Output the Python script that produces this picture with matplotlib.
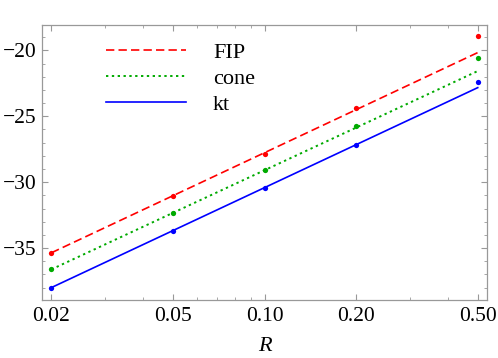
import matplotlib
matplotlib.use("Agg")
import matplotlib.pyplot as plt
from matplotlib.ticker import FixedLocator, NullFormatter

# Data
R = [0.02, 0.05, 0.10, 0.20, 0.50]
fip_pts = [-35.36, -31.06, -27.83, -24.39, -18.94]
cone_pts = [-36.62, -32.37, -29.09, -25.73, -20.55]
kt_pts = [-38.00, -33.74, -30.48, -27.17, -22.42]

# fitted lines (values at the two ends of the range)
R_line = [0.02, 0.50]
fip_line = [-35.36, -20.17]
cone_line = [-36.62, -21.57]
kt_line = [-38.00, -22.83]

xticks = [0.02, 0.05, 0.10, 0.20, 0.50]
xticklabels = ["0.02", "0.05", "0.10", "0.20", "0.50"]
xminor = [0.03, 0.04, 0.06, 0.07, 0.08, 0.09, 0.3, 0.4]
yticks = [-35, -30, -25, -20]
yticklabels = ["\u221235", "\u221230", "\u221225", "\u221220"]

plt.rcParams["font.family"] = ["Liberation Serif", "DejaVu Serif"]

fig = plt.figure(figsize=(4.98, 3.58), dpi=100)
ax = fig.add_axes([42.3 / 498, 1 - 300 / 358, (486.7 - 42.3) / 498, (300 - 25.3) / 358])

ax.plot(R_line, fip_line, color="#ff0000", lw=1.2, ls=(0, (5, 2.5)), label="FIP")
ax.plot(R_line, cone_line, color="#00aa00", lw=1.4, ls=(0, (1.2, 1.8)), label="cone")
ax.plot(R_line, kt_line, color="#0000ff", lw=1.2, label="kt")
ax.plot(R, fip_pts, "o", color="#ff0000", ms=3.8, mec="none")
ax.plot(R, cone_pts, "o", color="#00aa00", ms=3.8, mec="none")
ax.plot(R, kt_pts, "o", color="#0000ff", ms=3.8, mec="none")

ax.set_xscale("log")
ax.set_xlim(0.01868, 0.535)
ax.set_ylim(-38.94, -18.1)
ax.set_xticks(xticks)
ax.set_xticklabels(xticklabels)
ax.xaxis.set_minor_locator(FixedLocator(xminor))
ax.xaxis.set_minor_formatter(NullFormatter())
ax.set_yticks(yticks)
ax.set_yticklabels(yticklabels)
ax.yaxis.set_minor_locator(FixedLocator([v for v in range(-38, -18) if v % 5 != 0]))

for s in ax.spines.values():
    s.set_color("#999999")
    s.set_linewidth(0.9)
ax.tick_params(which="both", direction="in", top=True, right=True, color="#999999",
               labelsize=15.5, pad=4)
ax.tick_params(axis="x", which="major", pad=5)
ax.tick_params(which="major", length=4, width=0.8)
ax.tick_params(which="minor", length=2, width=0.6)

ax.set_xlabel("R", fontsize=16, fontstyle="italic", labelpad=8)

leg = ax.legend(loc="upper left", bbox_to_anchor=(0.124, 0.97), frameon=False, fontsize=16,
                handlelength=3.6, handletextpad=1.2, labelspacing=0.24, borderaxespad=0)

fig.savefig("out.png", dpi=100)
